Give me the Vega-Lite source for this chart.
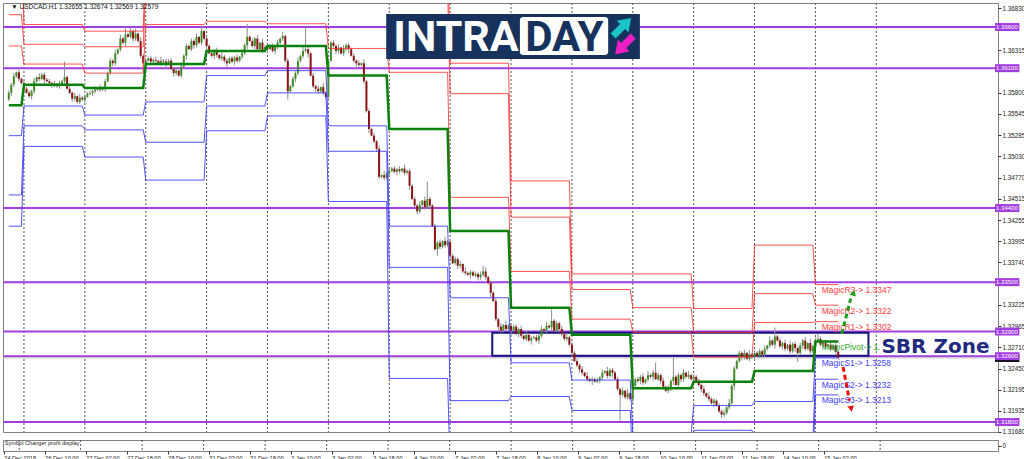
{
"$schema": "https://vega.github.io/schema/vega-lite/v6.json",
"background": "white",
"padding": {"left": 1, "top": 2, "right": 0, "bottom": 0},
"spacing": 3,
"config": {"font": "Liberation Sans", "view": {"stroke": "#7f7f7f", "strokeWidth": 1}},
"datasets": {
"sep": [{"i":6},{"i":30},{"i":54},{"i":78},{"i":102},{"i":126},{"i":150},{"i":174},{"i":198},{"i":222},{"i":246},{"i":270},{"i":294},{"i":318},{"i":342}],
"lv": [{"v":1.366,"t":"1.36600"},{"v":1.361,"t":"1.36100"},{"v":1.344,"t":"1.34400"},{"v":1.335,"t":"1.33500"},{"v":1.329,"t":"1.32900"},{"v":1.326,"t":"1.32600"},{"v":1.318,"t":"1.31800"}],
"bid": [{"v":1.32579,"t":"1.32579"}],
"pd": [
{"s":0,"e":5,"R3":1.3746,"R2":1.3675,"R1":1.3637,"P":1.3565,"S1":1.3528,"S2":1.3456,"S3":1.3418},
{"s":6,"e":29,"R3":1.3663,"R2":1.3639,"R1":1.3615,"P":1.3590,"S1":1.3564,"S2":1.3540,"S3":1.3515},
{"s":30,"e":53,"R3":1.3655,"R2":1.3636,"R1":1.3604,"P":1.3586,"S1":1.3553,"S2":1.3535,"S3":1.3502},
{"s":54,"e":77,"R3":1.3757,"R2":1.3709,"R1":1.3663,"P":1.3615,"S1":1.3569,"S2":1.3520,"S3":1.3474},
{"s":78,"e":101,"R3":1.3734,"R2":1.3698,"R1":1.3667,"P":1.3631,"S1":1.3601,"S2":1.3564,"S3":1.3534},
{"s":102,"e":125,"R3":1.3723,"R2":1.3694,"R1":1.3664,"P":1.3637,"S1":1.3607,"S2":1.3580,"S3":1.3552},
{"s":126,"e":149,"R3":1.3723,"R2":1.3692,"R1":1.3634,"P":1.3601,"S1":1.3540,"S2":1.3509,"S3":1.3448},
{"s":150,"e":173,"R3":1.3765,"R2":1.3705,"R1":1.3605,"P":1.3536,"S1":1.3418,"S2":1.3368,"S3":1.3233},
{"s":174,"e":197,"R3":1.3616,"R2":1.3579,"R1":1.3453,"P":1.3412,"S1":1.3331,"S2":1.3206,"S3":1.3120},
{"s":198,"e":221,"R3":1.3473,"R2":1.3429,"R1":1.3363,"P":1.3319,"S1":1.3252,"S2":1.3211,"S3":1.3150},
{"s":222,"e":245,"R3":1.3360,"R2":1.3341,"R1":1.3305,"P":1.3286,"S1":1.3231,"S2":1.3194,"S3":1.3140},
{"s":246,"e":269,"R3":1.3360,"R2":1.3319,"R1":1.3289,"P":1.3221,"S1":1.3165,"S2":1.3130,"S3":1.3100},
{"s":270,"e":293,"R3":1.3318,"R2":1.3289,"R1":1.3259,"P":1.3229,"S1":1.3200,"S2":1.3170,"S3":1.3140},
{"s":294,"e":317,"R3":1.3395,"R2":1.3336,"R1":1.3301,"P":1.3242,"S1":1.3205,"S2":1.3160,"S3":1.3125},
{"s":318,"e":327,"R3":1.3347,"R2":1.3322,"R1":1.3302,"P":1.3278,"S1":1.3258,"S2":1.3232,"S3":1.3213}
],
"lab": [{"t":"MagicR3-> 1.3347","v":1.3347,"g":"R"},{"t":"MagicR2-> 1.3322","v":1.3322,"g":"R"},{"t":"MagicR1-> 1.3302","v":1.3302,"g":"R"},{"t":"MagicPivot-> 1.3278","v":1.3278,"g":"P"},{"t":"MagicS1-> 1.3258","v":1.3258,"g":"S"},{"t":"MagicS2-> 1.3232","v":1.3232,"g":"S"},{"t":"MagicS3-> 1.3213","v":1.3213,"g":"S"}],
"arrG": [{"i":328.4,"v":1.3287},{"i":331.9,"v":1.3330}],
"arrR": [{"i":328.9,"v":1.3247},{"i":331.4,"v":1.3206}],
"c": [
{"i":0,"o":1.3572,"h":1.3583,"l":1.3570,"c":1.3580},
{"i":1,"o":1.3580,"h":1.3592,"l":1.3576,"c":1.3590},
{"i":2,"o":1.3590,"h":1.3604,"l":1.3587,"c":1.3600},
{"i":3,"o":1.3600,"h":1.3606,"l":1.3598,"c":1.3605},
{"i":4,"o":1.3605,"h":1.3610,"l":1.3594,"c":1.3597},
{"i":5,"o":1.3597,"h":1.3599,"l":1.3590,"c":1.3592},
{"i":6,"o":1.3592,"h":1.3595,"l":1.3580,"c":1.3585},
{"i":7,"o":1.3585,"h":1.3587,"l":1.3579,"c":1.3580},
{"i":8,"o":1.3580,"h":1.3583,"l":1.3574,"c":1.3576},
{"i":9,"o":1.3576,"h":1.3584,"l":1.3572,"c":1.3582},
{"i":10,"o":1.3582,"h":1.3598,"l":1.3579,"c":1.3594},
{"i":11,"o":1.3594,"h":1.3600,"l":1.3592,"c":1.3599},
{"i":12,"o":1.3599,"h":1.3604,"l":1.3594,"c":1.3597},
{"i":13,"o":1.3597,"h":1.3604,"l":1.3595,"c":1.3602},
{"i":14,"o":1.3602,"h":1.3605,"l":1.3591,"c":1.3596},
{"i":15,"o":1.3596,"h":1.3598,"l":1.3593,"c":1.3594},
{"i":16,"o":1.3594,"h":1.3597,"l":1.3590,"c":1.3592},
{"i":17,"o":1.3592,"h":1.3594,"l":1.3586,"c":1.3590},
{"i":18,"o":1.3590,"h":1.3595,"l":1.3587,"c":1.3591},
{"i":19,"o":1.3591,"h":1.3592,"l":1.3586,"c":1.3588},
{"i":20,"o":1.3588,"h":1.3595,"l":1.3585,"c":1.3590},
{"i":21,"o":1.3590,"h":1.3596,"l":1.3588,"c":1.3594},
{"i":22,"o":1.3594,"h":1.3618,"l":1.3589,"c":1.3599},
{"i":23,"o":1.3599,"h":1.3601,"l":1.3584,"c":1.3585},
{"i":24,"o":1.3585,"h":1.3588,"l":1.3578,"c":1.3580},
{"i":25,"o":1.3580,"h":1.3582,"l":1.3569,"c":1.3573},
{"i":26,"o":1.3573,"h":1.3580,"l":1.3570,"c":1.3576},
{"i":27,"o":1.3576,"h":1.3577,"l":1.3567,"c":1.3569},
{"i":28,"o":1.3569,"h":1.3579,"l":1.3566,"c":1.3574},
{"i":29,"o":1.3574,"h":1.3576,"l":1.3570,"c":1.3572},
{"i":30,"o":1.3572,"h":1.3578,"l":1.3567,"c":1.3575},
{"i":31,"o":1.3575,"h":1.3581,"l":1.3574,"c":1.3579},
{"i":32,"o":1.3579,"h":1.3583,"l":1.3577,"c":1.3580},
{"i":33,"o":1.3580,"h":1.3584,"l":1.3576,"c":1.3582},
{"i":34,"o":1.3582,"h":1.3588,"l":1.3579,"c":1.3584},
{"i":35,"o":1.3584,"h":1.3586,"l":1.3582,"c":1.3585},
{"i":36,"o":1.3585,"h":1.3590,"l":1.3581,"c":1.3584},
{"i":37,"o":1.3584,"h":1.3588,"l":1.3582,"c":1.3586},
{"i":38,"o":1.3586,"h":1.3597,"l":1.3581,"c":1.3594},
{"i":39,"o":1.3594,"h":1.3606,"l":1.3593,"c":1.3604},
{"i":40,"o":1.3604,"h":1.3622,"l":1.3602,"c":1.3619},
{"i":41,"o":1.3619,"h":1.3621,"l":1.3612,"c":1.3616},
{"i":42,"o":1.3616,"h":1.3632,"l":1.3613,"c":1.3628},
{"i":43,"o":1.3628,"h":1.3634,"l":1.3626,"c":1.3633},
{"i":44,"o":1.3633,"h":1.3651,"l":1.3630,"c":1.3646},
{"i":45,"o":1.3646,"h":1.3648,"l":1.3639,"c":1.3641},
{"i":46,"o":1.3641,"h":1.3661,"l":1.3636,"c":1.3651},
{"i":47,"o":1.3651,"h":1.3653,"l":1.3647,"c":1.3648},
{"i":48,"o":1.3648,"h":1.3660,"l":1.3646,"c":1.3655},
{"i":49,"o":1.3655,"h":1.3657,"l":1.3642,"c":1.3646},
{"i":50,"o":1.3646,"h":1.3658,"l":1.3643,"c":1.3652},
{"i":51,"o":1.3652,"h":1.3653,"l":1.3641,"c":1.3643},
{"i":52,"o":1.3643,"h":1.3648,"l":1.3622,"c":1.3625},
{"i":53,"o":1.3625,"h":1.3627,"l":1.3605,"c":1.3616},
{"i":54,"o":1.3616,"h":1.3622,"l":1.3611,"c":1.3619},
{"i":55,"o":1.3619,"h":1.3624,"l":1.3618,"c":1.3622},
{"i":56,"o":1.3622,"h":1.3625,"l":1.3616,"c":1.3618},
{"i":57,"o":1.3618,"h":1.3622,"l":1.3614,"c":1.3620},
{"i":58,"o":1.3620,"h":1.3624,"l":1.3616,"c":1.3619},
{"i":59,"o":1.3619,"h":1.3620,"l":1.3614,"c":1.3616},
{"i":60,"o":1.3616,"h":1.3624,"l":1.3613,"c":1.3619},
{"i":61,"o":1.3619,"h":1.3621,"l":1.3616,"c":1.3618},
{"i":62,"o":1.3618,"h":1.3621,"l":1.3610,"c":1.3615},
{"i":63,"o":1.3615,"h":1.3621,"l":1.3614,"c":1.3619},
{"i":64,"o":1.3619,"h":1.3622,"l":1.3607,"c":1.3609},
{"i":65,"o":1.3609,"h":1.3611,"l":1.3600,"c":1.3604},
{"i":66,"o":1.3604,"h":1.3611,"l":1.3601,"c":1.3607},
{"i":67,"o":1.3607,"h":1.3608,"l":1.3599,"c":1.3601},
{"i":68,"o":1.3601,"h":1.3617,"l":1.3598,"c":1.3612},
{"i":69,"o":1.3612,"h":1.3627,"l":1.3610,"c":1.3625},
{"i":70,"o":1.3625,"h":1.3640,"l":1.3620,"c":1.3637},
{"i":71,"o":1.3637,"h":1.3639,"l":1.3632,"c":1.3633},
{"i":72,"o":1.3633,"h":1.3646,"l":1.3631,"c":1.3643},
{"i":73,"o":1.3643,"h":1.3645,"l":1.3634,"c":1.3638},
{"i":74,"o":1.3638,"h":1.3652,"l":1.3635,"c":1.3648},
{"i":75,"o":1.3648,"h":1.3649,"l":1.3639,"c":1.3641},
{"i":76,"o":1.3641,"h":1.3662,"l":1.3638,"c":1.3655},
{"i":77,"o":1.3655,"h":1.3657,"l":1.3644,"c":1.3646},
{"i":78,"o":1.3646,"h":1.3649,"l":1.3632,"c":1.3637},
{"i":79,"o":1.3637,"h":1.3639,"l":1.3627,"c":1.3628},
{"i":80,"o":1.3628,"h":1.3631,"l":1.3623,"c":1.3625},
{"i":81,"o":1.3625,"h":1.3633,"l":1.3621,"c":1.3631},
{"i":82,"o":1.3631,"h":1.3635,"l":1.3623,"c":1.3626},
{"i":83,"o":1.3626,"h":1.3627,"l":1.3620,"c":1.3622},
{"i":84,"o":1.3622,"h":1.3629,"l":1.3619,"c":1.3624},
{"i":85,"o":1.3624,"h":1.3626,"l":1.3617,"c":1.3619},
{"i":86,"o":1.3619,"h":1.3622,"l":1.3611,"c":1.3616},
{"i":87,"o":1.3616,"h":1.3624,"l":1.3615,"c":1.3622},
{"i":88,"o":1.3622,"h":1.3625,"l":1.3616,"c":1.3618},
{"i":89,"o":1.3618,"h":1.3625,"l":1.3614,"c":1.3623},
{"i":90,"o":1.3623,"h":1.3627,"l":1.3616,"c":1.3619},
{"i":91,"o":1.3619,"h":1.3625,"l":1.3617,"c":1.3624},
{"i":92,"o":1.3624,"h":1.3633,"l":1.3621,"c":1.3628},
{"i":93,"o":1.3628,"h":1.3640,"l":1.3626,"c":1.3638},
{"i":94,"o":1.3638,"h":1.3664,"l":1.3633,"c":1.3648},
{"i":95,"o":1.3648,"h":1.3650,"l":1.3642,"c":1.3643},
{"i":96,"o":1.3643,"h":1.3646,"l":1.3635,"c":1.3637},
{"i":97,"o":1.3637,"h":1.3648,"l":1.3633,"c":1.3646},
{"i":98,"o":1.3646,"h":1.3650,"l":1.3630,"c":1.3633},
{"i":99,"o":1.3633,"h":1.3642,"l":1.3631,"c":1.3641},
{"i":100,"o":1.3641,"h":1.3646,"l":1.3628,"c":1.3631},
{"i":101,"o":1.3631,"h":1.3638,"l":1.3629,"c":1.3636},
{"i":102,"o":1.3636,"h":1.3639,"l":1.3628,"c":1.3633},
{"i":103,"o":1.3633,"h":1.3639,"l":1.3632,"c":1.3637},
{"i":104,"o":1.3637,"h":1.3640,"l":1.3629,"c":1.3631},
{"i":105,"o":1.3631,"h":1.3638,"l":1.3627,"c":1.3636},
{"i":106,"o":1.3636,"h":1.3645,"l":1.3633,"c":1.3641},
{"i":107,"o":1.3641,"h":1.3647,"l":1.3639,"c":1.3646},
{"i":108,"o":1.3646,"h":1.3654,"l":1.3643,"c":1.3649},
{"i":109,"o":1.3649,"h":1.3651,"l":1.3617,"c":1.3619},
{"i":110,"o":1.3619,"h":1.3622,"l":1.3572,"c":1.3582},
{"i":111,"o":1.3582,"h":1.3590,"l":1.3581,"c":1.3588},
{"i":112,"o":1.3588,"h":1.3600,"l":1.3586,"c":1.3597},
{"i":113,"o":1.3597,"h":1.3606,"l":1.3593,"c":1.3604},
{"i":114,"o":1.3604,"h":1.3623,"l":1.3601,"c":1.3619},
{"i":115,"o":1.3619,"h":1.3626,"l":1.3617,"c":1.3625},
{"i":116,"o":1.3625,"h":1.3636,"l":1.3622,"c":1.3631},
{"i":117,"o":1.3631,"h":1.3661,"l":1.3629,"c":1.3633},
{"i":118,"o":1.3633,"h":1.3636,"l":1.3623,"c":1.3628},
{"i":119,"o":1.3628,"h":1.3630,"l":1.3600,"c":1.3601},
{"i":120,"o":1.3601,"h":1.3604,"l":1.3586,"c":1.3588},
{"i":121,"o":1.3588,"h":1.3590,"l":1.3581,"c":1.3585},
{"i":122,"o":1.3585,"h":1.3589,"l":1.3579,"c":1.3582},
{"i":123,"o":1.3582,"h":1.3588,"l":1.3580,"c":1.3587},
{"i":124,"o":1.3587,"h":1.3592,"l":1.3577,"c":1.3580},
{"i":125,"o":1.3580,"h":1.3582,"l":1.3573,"c":1.3575},
{"i":126,"o":1.3575,"h":1.3622,"l":1.3570,"c":1.3619},
{"i":127,"o":1.3619,"h":1.3643,"l":1.3618,"c":1.3641},
{"i":128,"o":1.3641,"h":1.3644,"l":1.3635,"c":1.3637},
{"i":129,"o":1.3637,"h":1.3639,"l":1.3627,"c":1.3631},
{"i":130,"o":1.3631,"h":1.3639,"l":1.3628,"c":1.3635},
{"i":131,"o":1.3635,"h":1.3636,"l":1.3626,"c":1.3628},
{"i":132,"o":1.3628,"h":1.3638,"l":1.3625,"c":1.3633},
{"i":133,"o":1.3633,"h":1.3640,"l":1.3631,"c":1.3638},
{"i":134,"o":1.3638,"h":1.3641,"l":1.3628,"c":1.3633},
{"i":135,"o":1.3633,"h":1.3635,"l":1.3624,"c":1.3625},
{"i":136,"o":1.3625,"h":1.3628,"l":1.3617,"c":1.3619},
{"i":137,"o":1.3619,"h":1.3621,"l":1.3612,"c":1.3616},
{"i":138,"o":1.3616,"h":1.3620,"l":1.3611,"c":1.3614},
{"i":139,"o":1.3614,"h":1.3617,"l":1.3612,"c":1.3616},
{"i":140,"o":1.3616,"h":1.3621,"l":1.3591,"c":1.3594},
{"i":141,"o":1.3594,"h":1.3596,"l":1.3556,"c":1.3558},
{"i":142,"o":1.3558,"h":1.3561,"l":1.3531,"c":1.3536},
{"i":143,"o":1.3536,"h":1.3538,"l":1.3527,"c":1.3528},
{"i":144,"o":1.3528,"h":1.3531,"l":1.3519,"c":1.3521},
{"i":145,"o":1.3521,"h":1.3523,"l":1.3508,"c":1.3512},
{"i":146,"o":1.3512,"h":1.3516,"l":1.3475,"c":1.3478},
{"i":147,"o":1.3478,"h":1.3481,"l":1.3476,"c":1.3480},
{"i":148,"o":1.3480,"h":1.3485,"l":1.3474,"c":1.3477},
{"i":149,"o":1.3477,"h":1.3484,"l":1.3475,"c":1.3482},
{"i":150,"o":1.3482,"h":1.3488,"l":1.3477,"c":1.3485},
{"i":151,"o":1.3485,"h":1.3490,"l":1.3484,"c":1.3488},
{"i":152,"o":1.3488,"h":1.3491,"l":1.3482,"c":1.3484},
{"i":153,"o":1.3484,"h":1.3489,"l":1.3480,"c":1.3487},
{"i":154,"o":1.3487,"h":1.3491,"l":1.3482,"c":1.3485},
{"i":155,"o":1.3485,"h":1.3489,"l":1.3483,"c":1.3488},
{"i":156,"o":1.3488,"h":1.3493,"l":1.3480,"c":1.3483},
{"i":157,"o":1.3483,"h":1.3487,"l":1.3481,"c":1.3485},
{"i":158,"o":1.3485,"h":1.3488,"l":1.3462,"c":1.3467},
{"i":159,"o":1.3467,"h":1.3469,"l":1.3450,"c":1.3451},
{"i":160,"o":1.3451,"h":1.3454,"l":1.3441,"c":1.3443},
{"i":161,"o":1.3443,"h":1.3445,"l":1.3432,"c":1.3436},
{"i":162,"o":1.3436,"h":1.3448,"l":1.3433,"c":1.3444},
{"i":163,"o":1.3444,"h":1.3450,"l":1.3442,"c":1.3449},
{"i":164,"o":1.3449,"h":1.3454,"l":1.3438,"c":1.3441},
{"i":165,"o":1.3441,"h":1.3472,"l":1.3439,"c":1.3451},
{"i":166,"o":1.3451,"h":1.3454,"l":1.3438,"c":1.3443},
{"i":167,"o":1.3443,"h":1.3445,"l":1.3417,"c":1.3418},
{"i":168,"o":1.3418,"h":1.3421,"l":1.3388,"c":1.3390},
{"i":169,"o":1.3390,"h":1.3400,"l":1.3382,"c":1.3398},
{"i":170,"o":1.3398,"h":1.3402,"l":1.3390,"c":1.3393},
{"i":171,"o":1.3393,"h":1.3401,"l":1.3391,"c":1.3400},
{"i":172,"o":1.3400,"h":1.3405,"l":1.3392,"c":1.3395},
{"i":173,"o":1.3395,"h":1.3401,"l":1.3393,"c":1.3399},
{"i":174,"o":1.3399,"h":1.3402,"l":1.3377,"c":1.3382},
{"i":175,"o":1.3382,"h":1.3384,"l":1.3372,"c":1.3373},
{"i":176,"o":1.3373,"h":1.3381,"l":1.3371,"c":1.3378},
{"i":177,"o":1.3378,"h":1.3380,"l":1.3366,"c":1.3370},
{"i":178,"o":1.3370,"h":1.3376,"l":1.3367,"c":1.3372},
{"i":179,"o":1.3372,"h":1.3373,"l":1.3361,"c":1.3363},
{"i":180,"o":1.3363,"h":1.3368,"l":1.3358,"c":1.3361},
{"i":181,"o":1.3361,"h":1.3363,"l":1.3357,"c":1.3359},
{"i":182,"o":1.3359,"h":1.3365,"l":1.3354,"c":1.3362},
{"i":183,"o":1.3362,"h":1.3364,"l":1.3357,"c":1.3358},
{"i":184,"o":1.3358,"h":1.3363,"l":1.3356,"c":1.3360},
{"i":185,"o":1.3360,"h":1.3362,"l":1.3352,"c":1.3356},
{"i":186,"o":1.3356,"h":1.3363,"l":1.3353,"c":1.3359},
{"i":187,"o":1.3359,"h":1.3370,"l":1.3357,"c":1.3363},
{"i":188,"o":1.3363,"h":1.3368,"l":1.3353,"c":1.3356},
{"i":189,"o":1.3356,"h":1.3358,"l":1.3347,"c":1.3349},
{"i":190,"o":1.3349,"h":1.3352,"l":1.3332,"c":1.3337},
{"i":191,"o":1.3337,"h":1.3339,"l":1.3326,"c":1.3327},
{"i":192,"o":1.3327,"h":1.3330,"l":1.3303,"c":1.3305},
{"i":193,"o":1.3305,"h":1.3307,"l":1.3292,"c":1.3296},
{"i":194,"o":1.3296,"h":1.3300,"l":1.3288,"c":1.3291},
{"i":195,"o":1.3291,"h":1.3299,"l":1.3289,"c":1.3298},
{"i":196,"o":1.3298,"h":1.3303,"l":1.3290,"c":1.3293},
{"i":197,"o":1.3293,"h":1.3299,"l":1.3291,"c":1.3297},
{"i":198,"o":1.3297,"h":1.3300,"l":1.3286,"c":1.3291},
{"i":199,"o":1.3291,"h":1.3298,"l":1.3290,"c":1.3296},
{"i":200,"o":1.3296,"h":1.3299,"l":1.3285,"c":1.3287},
{"i":201,"o":1.3287,"h":1.3295,"l":1.3283,"c":1.3293},
{"i":202,"o":1.3293,"h":1.3297,"l":1.3282,"c":1.3285},
{"i":203,"o":1.3285,"h":1.3286,"l":1.3279,"c":1.3281},
{"i":204,"o":1.3281,"h":1.3291,"l":1.3278,"c":1.3286},
{"i":205,"o":1.3286,"h":1.3288,"l":1.3277,"c":1.3279},
{"i":206,"o":1.3279,"h":1.3285,"l":1.3274,"c":1.3282},
{"i":207,"o":1.3282,"h":1.3285,"l":1.3281,"c":1.3283},
{"i":208,"o":1.3283,"h":1.3286,"l":1.3277,"c":1.3279},
{"i":209,"o":1.3279,"h":1.3287,"l":1.3275,"c":1.3285},
{"i":210,"o":1.3285,"h":1.3297,"l":1.3282,"c":1.3293},
{"i":211,"o":1.3293,"h":1.3294,"l":1.3289,"c":1.3291},
{"i":212,"o":1.3291,"h":1.3302,"l":1.3288,"c":1.3297},
{"i":213,"o":1.3297,"h":1.3299,"l":1.3293,"c":1.3295},
{"i":214,"o":1.3295,"h":1.3317,"l":1.3290,"c":1.3303},
{"i":215,"o":1.3303,"h":1.3305,"l":1.3290,"c":1.3291},
{"i":216,"o":1.3291,"h":1.3303,"l":1.3289,"c":1.3300},
{"i":217,"o":1.3300,"h":1.3302,"l":1.3289,"c":1.3293},
{"i":218,"o":1.3293,"h":1.3297,"l":1.3284,"c":1.3287},
{"i":219,"o":1.3287,"h":1.3288,"l":1.3279,"c":1.3281},
{"i":220,"o":1.3281,"h":1.3288,"l":1.3278,"c":1.3283},
{"i":221,"o":1.3283,"h":1.3285,"l":1.3272,"c":1.3274},
{"i":222,"o":1.3274,"h":1.3277,"l":1.3259,"c":1.3264},
{"i":223,"o":1.3264,"h":1.3266,"l":1.3253,"c":1.3254},
{"i":224,"o":1.3254,"h":1.3257,"l":1.3247,"c":1.3249},
{"i":225,"o":1.3249,"h":1.3251,"l":1.3240,"c":1.3244},
{"i":226,"o":1.3244,"h":1.3248,"l":1.3237,"c":1.3240},
{"i":227,"o":1.3240,"h":1.3241,"l":1.3234,"c":1.3236},
{"i":228,"o":1.3236,"h":1.3241,"l":1.3229,"c":1.3232},
{"i":229,"o":1.3232,"h":1.3234,"l":1.3228,"c":1.3230},
{"i":230,"o":1.3230,"h":1.3235,"l":1.3225,"c":1.3232},
{"i":231,"o":1.3232,"h":1.3234,"l":1.3228,"c":1.3229},
{"i":232,"o":1.3229,"h":1.3234,"l":1.3227,"c":1.3231},
{"i":233,"o":1.3231,"h":1.3236,"l":1.3227,"c":1.3234},
{"i":234,"o":1.3234,"h":1.3244,"l":1.3231,"c":1.3240},
{"i":235,"o":1.3240,"h":1.3243,"l":1.3238,"c":1.3242},
{"i":236,"o":1.3242,"h":1.3247,"l":1.3233,"c":1.3236},
{"i":237,"o":1.3236,"h":1.3245,"l":1.3234,"c":1.3243},
{"i":238,"o":1.3243,"h":1.3246,"l":1.3235,"c":1.3240},
{"i":239,"o":1.3240,"h":1.3242,"l":1.3231,"c":1.3232},
{"i":240,"o":1.3232,"h":1.3235,"l":1.3218,"c":1.3220},
{"i":241,"o":1.3220,"h":1.3222,"l":1.3181,"c":1.3213},
{"i":242,"o":1.3213,"h":1.3222,"l":1.3210,"c":1.3218},
{"i":243,"o":1.3218,"h":1.3219,"l":1.3208,"c":1.3210},
{"i":244,"o":1.3210,"h":1.3220,"l":1.3207,"c":1.3215},
{"i":245,"o":1.3215,"h":1.3217,"l":1.3206,"c":1.3208},
{"i":246,"o":1.3208,"h":1.3227,"l":1.3203,"c":1.3224},
{"i":247,"o":1.3224,"h":1.3234,"l":1.3223,"c":1.3232},
{"i":248,"o":1.3232,"h":1.3235,"l":1.3228,"c":1.3230},
{"i":249,"o":1.3230,"h":1.3237,"l":1.3226,"c":1.3235},
{"i":250,"o":1.3235,"h":1.3239,"l":1.3225,"c":1.3228},
{"i":251,"o":1.3228,"h":1.3233,"l":1.3226,"c":1.3232},
{"i":252,"o":1.3232,"h":1.3242,"l":1.3229,"c":1.3237},
{"i":253,"o":1.3237,"h":1.3239,"l":1.3233,"c":1.3235},
{"i":254,"o":1.3235,"h":1.3243,"l":1.3230,"c":1.3240},
{"i":255,"o":1.3240,"h":1.3252,"l":1.3231,"c":1.3232},
{"i":256,"o":1.3232,"h":1.3240,"l":1.3230,"c":1.3237},
{"i":257,"o":1.3237,"h":1.3239,"l":1.3226,"c":1.3230},
{"i":258,"o":1.3230,"h":1.3234,"l":1.3220,"c":1.3223},
{"i":259,"o":1.3223,"h":1.3224,"l":1.3216,"c":1.3218},
{"i":260,"o":1.3218,"h":1.3225,"l":1.3215,"c":1.3220},
{"i":261,"o":1.3220,"h":1.3232,"l":1.3218,"c":1.3230},
{"i":262,"o":1.3230,"h":1.3258,"l":1.3225,"c":1.3235},
{"i":263,"o":1.3235,"h":1.3237,"l":1.3224,"c":1.3225},
{"i":264,"o":1.3225,"h":1.3240,"l":1.3223,"c":1.3237},
{"i":265,"o":1.3237,"h":1.3239,"l":1.3228,"c":1.3232},
{"i":266,"o":1.3232,"h":1.3244,"l":1.3229,"c":1.3240},
{"i":267,"o":1.3240,"h":1.3241,"l":1.3233,"c":1.3235},
{"i":268,"o":1.3235,"h":1.3242,"l":1.3232,"c":1.3237},
{"i":269,"o":1.3237,"h":1.3239,"l":1.3230,"c":1.3232},
{"i":270,"o":1.3232,"h":1.3238,"l":1.3227,"c":1.3235},
{"i":271,"o":1.3235,"h":1.3237,"l":1.3229,"c":1.3230},
{"i":272,"o":1.3230,"h":1.3233,"l":1.3223,"c":1.3225},
{"i":273,"o":1.3225,"h":1.3227,"l":1.3216,"c":1.3220},
{"i":274,"o":1.3220,"h":1.3224,"l":1.3212,"c":1.3215},
{"i":275,"o":1.3215,"h":1.3216,"l":1.3209,"c":1.3211},
{"i":276,"o":1.3211,"h":1.3216,"l":1.3205,"c":1.3208},
{"i":277,"o":1.3208,"h":1.3210,"l":1.3201,"c":1.3203},
{"i":278,"o":1.3203,"h":1.3209,"l":1.3198,"c":1.3206},
{"i":279,"o":1.3206,"h":1.3208,"l":1.3199,"c":1.3200},
{"i":280,"o":1.3200,"h":1.3203,"l":1.3191,"c":1.3193},
{"i":281,"o":1.3193,"h":1.3195,"l":1.3185,"c":1.3189},
{"i":282,"o":1.3189,"h":1.3195,"l":1.3186,"c":1.3191},
{"i":283,"o":1.3191,"h":1.3199,"l":1.3189,"c":1.3198},
{"i":284,"o":1.3198,"h":1.3208,"l":1.3195,"c":1.3203},
{"i":285,"o":1.3203,"h":1.3226,"l":1.3201,"c":1.3224},
{"i":286,"o":1.3224,"h":1.3248,"l":1.3219,"c":1.3245},
{"i":287,"o":1.3245,"h":1.3256,"l":1.3244,"c":1.3254},
{"i":288,"o":1.3254,"h":1.3267,"l":1.3252,"c":1.3264},
{"i":289,"o":1.3264,"h":1.3266,"l":1.3255,"c":1.3259},
{"i":290,"o":1.3259,"h":1.3268,"l":1.3256,"c":1.3264},
{"i":291,"o":1.3264,"h":1.3265,"l":1.3255,"c":1.3257},
{"i":292,"o":1.3257,"h":1.3267,"l":1.3254,"c":1.3262},
{"i":293,"o":1.3262,"h":1.3264,"l":1.3257,"c":1.3259},
{"i":294,"o":1.3259,"h":1.3267,"l":1.3254,"c":1.3264},
{"i":295,"o":1.3264,"h":1.3266,"l":1.3259,"c":1.3260},
{"i":296,"o":1.3260,"h":1.3269,"l":1.3258,"c":1.3266},
{"i":297,"o":1.3266,"h":1.3268,"l":1.3258,"c":1.3262},
{"i":298,"o":1.3262,"h":1.3273,"l":1.3259,"c":1.3269},
{"i":299,"o":1.3269,"h":1.3274,"l":1.3267,"c":1.3273},
{"i":300,"o":1.3273,"h":1.3284,"l":1.3270,"c":1.3279},
{"i":301,"o":1.3279,"h":1.3281,"l":1.3272,"c":1.3274},
{"i":302,"o":1.3274,"h":1.3295,"l":1.3269,"c":1.3284},
{"i":303,"o":1.3284,"h":1.3286,"l":1.3278,"c":1.3279},
{"i":304,"o":1.3279,"h":1.3282,"l":1.3270,"c":1.3272},
{"i":305,"o":1.3272,"h":1.3278,"l":1.3268,"c":1.3276},
{"i":306,"o":1.3276,"h":1.3280,"l":1.3266,"c":1.3269},
{"i":307,"o":1.3269,"h":1.3275,"l":1.3267,"c":1.3274},
{"i":308,"o":1.3274,"h":1.3279,"l":1.3263,"c":1.3266},
{"i":309,"o":1.3266,"h":1.3277,"l":1.3264,"c":1.3275},
{"i":310,"o":1.3275,"h":1.3278,"l":1.3265,"c":1.3270},
{"i":311,"o":1.3270,"h":1.3272,"l":1.3253,"c":1.3264},
{"i":312,"o":1.3264,"h":1.3276,"l":1.3262,"c":1.3273},
{"i":313,"o":1.3273,"h":1.3281,"l":1.3269,"c":1.3279},
{"i":314,"o":1.3279,"h":1.3283,"l":1.3266,"c":1.3269},
{"i":315,"o":1.3269,"h":1.3277,"l":1.3267,"c":1.3276},
{"i":316,"o":1.3276,"h":1.3281,"l":1.3263,"c":1.3266},
{"i":317,"o":1.3266,"h":1.3274,"l":1.3264,"c":1.3272},
{"i":318,"o":1.3272,"h":1.3282,"l":1.3267,"c":1.3279},
{"i":319,"o":1.3279,"h":1.3287,"l":1.3278,"c":1.3281},
{"i":320,"o":1.3281,"h":1.3284,"l":1.3272,"c":1.3274},
{"i":321,"o":1.3274,"h":1.3278,"l":1.3270,"c":1.3276},
{"i":322,"o":1.3276,"h":1.3280,"l":1.3269,"c":1.3272},
{"i":323,"o":1.3272,"h":1.3275,"l":1.3270,"c":1.3274},
{"i":324,"o":1.3274,"h":1.3279,"l":1.3266,"c":1.3269},
{"i":325,"o":1.3269,"h":1.3275,"l":1.3267,"c":1.3273},
{"i":326,"o":1.3273,"h":1.3276,"l":1.3261,"c":1.32655},
{"i":327,"o":1.32655,"h":1.32674,"l":1.32569,"c":1.32579}
]
},
"vconcat": [
{
"width": 995, "height": 429,
"resolve": {"axis": {"x": "independent", "y": "independent"}},
"layer": [
{"data": {"name": "sep"}, "mark": {"type": "rule", "color": "#555555", "strokeDash": [2, 2], "strokeWidth": 1},
 "encoding": {"x": {"field": "i", "type": "quantitative", "scale": {"domain": [-0.3, 388], "nice": false, "zero": false}, "axis": null}}},
{"data": {"name": "lv"}, "mark": {"type": "rule", "color": "#a23ee0", "strokeWidth": 2},
 "encoding": {"y": {"field": "v", "type": "quantitative", "scale": {"domain": [1.31679, 1.36892], "nice": false, "zero": false},
  "axis": {"orient": "right", "title": null, "values": [1.3683,1.36315,1.358,1.35545,1.35285,1.3503,1.3477,1.34515,1.34255,1.33995,1.3374,1.33225,1.32965,1.3271,1.3245,1.32195,1.31935,1.3168], "format": ".5f", "domain": false, "grid": false, "ticks": true, "tickSize": 3, "tickColor": "#333333", "labelColor": "#222222", "labelFont": "Liberation Sans", "labelFontSize": 6.3, "labelPadding": 1, "labelOverlap": false, "labelBound": false, "labelFlush": false}}}},
{"data": {"name": "bid"}, "mark": {"type": "rule", "color": "#c4c4c4", "strokeWidth": 1},
 "encoding": {"y": {"field": "v", "type": "quantitative", "scale": {"domain": [1.31679, 1.36892], "nice": false, "zero": false}, "axis": null}}},
{"data": {"values": [{"n": "SBR"}]}, "mark": {"type": "rect", "fillOpacity": 0, "stroke": "#15157a", "strokeWidth": 2},
 "encoding": {"x": {"datum": 190.6, "type": "quantitative", "scale": {"domain": [-0.3, 388], "nice": false, "zero": false}, "axis": null}, "x2": {"datum": 338.9},
  "y": {"datum": 1.32885, "type": "quantitative", "scale": {"domain": [1.31679, 1.36892], "nice": false, "zero": false}, "axis": null}, "y2": {"datum": 1.32607}}},
{"data": {"name": "c"}, "mark": {"type": "rule", "color": "#8e8e8e", "strokeWidth": 1, "clip": true},
 "encoding": {"x": {"field": "i", "type": "quantitative", "scale": {"domain": [-0.3, 388], "nice": false, "zero": false}, "axis": null},
  "y": {"field": "l", "type": "quantitative", "scale": {"domain": [1.31679, 1.36892], "nice": false, "zero": false}, "axis": null}, "y2": {"field": "h"}}},
{"data": {"name": "c"}, "mark": {"type": "bar", "size": 2, "clip": true},
 "encoding": {"x": {"field": "i", "type": "quantitative", "scale": {"domain": [-0.3, 388], "nice": false, "zero": false}, "axis": null},
  "y": {"field": "o", "type": "quantitative", "scale": {"domain": [1.31679, 1.36892], "nice": false, "zero": false}, "axis": null}, "y2": {"field": "c"},
  "color": {"condition": {"test": "datum.c >= datum.o", "value": "#3f8e27"}, "value": "#8a1212"}}},
{"data": {"name": "pd"}, "transform": [{"fold": ["R3", "R2", "R1"], "as": ["k", "v"]}, {"fold": ["s", "e"], "as": ["w", "i"]}],
 "mark": {"type": "line", "color": "#ff3434", "strokeWidth": 1, "opacity": 0.85, "clip": true},
 "encoding": {"x": {"field": "i", "type": "quantitative", "scale": {"domain": [-0.3, 388], "nice": false, "zero": false}, "axis": null},
  "y": {"field": "v", "type": "quantitative", "scale": {"domain": [1.31679, 1.36892], "nice": false, "zero": false}, "axis": null}, "detail": {"field": "k"}}},
{"data": {"name": "pd"}, "transform": [{"fold": ["S1", "S2", "S3"], "as": ["k", "v"]}, {"fold": ["s", "e"], "as": ["w", "i"]}],
 "mark": {"type": "line", "color": "#3434ff", "strokeWidth": 1, "opacity": 0.85, "clip": true},
 "encoding": {"x": {"field": "i", "type": "quantitative", "scale": {"domain": [-0.3, 388], "nice": false, "zero": false}, "axis": null},
  "y": {"field": "v", "type": "quantitative", "scale": {"domain": [1.31679, 1.36892], "nice": false, "zero": false}, "axis": null}, "detail": {"field": "k"}}},
{"data": {"name": "pd"}, "transform": [{"fold": ["P"], "as": ["k", "v"]}, {"fold": ["s", "e"], "as": ["w", "i"]}],
 "mark": {"type": "line", "color": "#0b800b", "strokeWidth": 2.5, "clip": true},
 "encoding": {"x": {"field": "i", "type": "quantitative", "scale": {"domain": [-0.3, 388], "nice": false, "zero": false}, "axis": null},
  "y": {"field": "v", "type": "quantitative", "scale": {"domain": [1.31679, 1.36892], "nice": false, "zero": false}, "axis": null}}},
{"data": {"name": "lab"}, "mark": {"type": "text", "align": "left", "baseline": "top", "dy": 1.5, "font": "Liberation Sans", "fontSize": 8.5},
 "encoding": {"x": {"datum": 320.5, "type": "quantitative", "scale": {"domain": [-0.3, 388], "nice": false, "zero": false}, "axis": null},
  "y": {"field": "v", "type": "quantitative", "scale": {"domain": [1.31679, 1.36892], "nice": false, "zero": false}, "axis": null},
  "text": {"field": "t"},
  "color": {"field": "g", "type": "nominal", "scale": {"domain": ["R", "P", "S"], "range": ["#ff4040", "#2aa52a", "#4040ff"]}, "legend": null}}},
{"data": {"values": [{"n": "bg"}]}, "mark": {"type": "rect", "color": "white"},
 "encoding": {"x": {"datum": 343.6, "type": "quantitative", "scale": {"domain": [-0.3, 388], "nice": false, "zero": false}, "axis": null}, "x2": {"datum": 386.5},
  "y": {"datum": 1.32855, "type": "quantitative", "scale": {"domain": [1.31679, 1.36892], "nice": false, "zero": false}, "axis": null}, "y2": {"datum": 1.32635}}},
{"data": {"values": [{"t": "SBR Zone"}]}, "mark": {"type": "text", "align": "left", "baseline": "middle", "font": "DejaVu Sans", "fontWeight": "bold", "fontSize": 20, "color": "#1f2a7e"},
 "encoding": {"x": {"datum": 344, "type": "quantitative", "scale": {"domain": [-0.3, 388], "nice": false, "zero": false}, "axis": null},
  "y": {"datum": 1.32712, "type": "quantitative", "scale": {"domain": [1.31679, 1.36892], "nice": false, "zero": false}, "axis": null}, "text": {"field": "t"}}},
{"data": {"name": "arrG"}, "mark": {"type": "line", "color": "#1c9e1c", "strokeWidth": 3, "strokeDash": [5, 3]},
 "encoding": {"x": {"field": "i", "type": "quantitative", "scale": {"domain": [-0.3, 388], "nice": false, "zero": false}, "axis": null},
  "y": {"field": "v", "type": "quantitative", "scale": {"domain": [1.31679, 1.36892], "nice": false, "zero": false}, "axis": null}}},
{"data": {"values": [{"n": "hg"}]}, "mark": {"type": "point", "shape": "triangle-up", "filled": true, "size": 45, "color": "#1c9e1c", "angle": 15, "opacity": 1},
 "encoding": {"x": {"datum": 333.0, "type": "quantitative", "scale": {"domain": [-0.3, 388], "nice": false, "zero": false}, "axis": null},
  "y": {"datum": 1.3337, "type": "quantitative", "scale": {"domain": [1.31679, 1.36892], "nice": false, "zero": false}, "axis": null}}},
{"data": {"name": "arrR"}, "mark": {"type": "line", "color": "#e81010", "strokeWidth": 3, "strokeDash": [5, 3]},
 "encoding": {"x": {"field": "i", "type": "quantitative", "scale": {"domain": [-0.3, 388], "nice": false, "zero": false}, "axis": null},
  "y": {"field": "v", "type": "quantitative", "scale": {"domain": [1.31679, 1.36892], "nice": false, "zero": false}, "axis": null}}},
{"data": {"values": [{"n": "hr"}]}, "mark": {"type": "point", "shape": "triangle-down", "filled": true, "size": 45, "color": "#e81010", "angle": -10, "opacity": 1},
 "encoding": {"x": {"datum": 332.1, "type": "quantitative", "scale": {"domain": [-0.3, 388], "nice": false, "zero": false}, "axis": null},
  "y": {"datum": 1.3196, "type": "quantitative", "scale": {"domain": [1.31679, 1.36892], "nice": false, "zero": false}, "axis": null}}},
{"data": {"values": [{"n": "logo"}]}, "mark": {"type": "rect", "color": "#17325c"},
 "encoding": {"x": {"datum": 148.8, "type": "quantitative", "scale": {"domain": [-0.3, 388], "nice": false, "zero": false}, "axis": null}, "x2": {"datum": 248.8},
  "y": {"datum": 1.36758, "type": "quantitative", "scale": {"domain": [1.31679, 1.36892], "nice": false, "zero": false}, "axis": null}, "y2": {"datum": 1.36211}}},
{"data": {"values": [{"n": "day"}]}, "mark": {"type": "rect", "color": "white", "cornerRadius": 3},
 "encoding": {"x": {"datum": 201.5, "type": "quantitative", "scale": {"domain": [-0.3, 388], "nice": false, "zero": false}, "axis": null}, "x2": {"datum": 236.3},
  "y": {"datum": 1.36722, "type": "quantitative", "scale": {"domain": [1.31679, 1.36892], "nice": false, "zero": false}, "axis": null}, "y2": {"datum": 1.3626}}},
{"data": {"values": [{"t": "INTRA"}]}, "mark": {"type": "text", "align": "left", "baseline": "alphabetic", "font": "Roboto", "fontWeight": "bold", "fontSize": 43, "color": "white"},
 "encoding": {"x": {"datum": 151.6, "type": "quantitative", "scale": {"domain": [-0.3, 388], "nice": false, "zero": false}, "axis": null},
  "y": {"datum": 1.36312, "type": "quantitative", "scale": {"domain": [1.31679, 1.36892], "nice": false, "zero": false}, "axis": null}, "text": {"field": "t"}}},
{"data": {"values": [{"t": "DAY"}]}, "mark": {"type": "text", "align": "left", "baseline": "alphabetic", "font": "Roboto", "fontWeight": "bold", "fontSize": 42, "color": "#17325c"},
 "encoding": {"x": {"datum": 203.6, "type": "quantitative", "scale": {"domain": [-0.3, 388], "nice": false, "zero": false}, "axis": null},
  "y": {"datum": 1.36312, "type": "quantitative", "scale": {"domain": [1.31679, 1.36892], "nice": false, "zero": false}, "axis": null}, "text": {"field": "t"}}},
{"data": {"values": [{"n": "up"}]}, "mark": {"type": "point", "shape": "M-0.28,1L-0.28,-0.05L-0.65,-0.05L0,-1L0.65,-0.05L0.28,-0.05L0.28,1Z", "filled": true, "size": 650, "color": "#19c3c8", "angle": 45, "opacity": 1},
 "encoding": {"x": {"datum": 241.8, "type": "quantitative", "scale": {"domain": [-0.3, 388], "nice": false, "zero": false}, "axis": null},
  "y": {"datum": 1.36600, "type": "quantitative", "scale": {"domain": [1.31679, 1.36892], "nice": false, "zero": false}, "axis": null}}},
{"data": {"values": [{"n": "down"}]}, "mark": {"type": "point", "shape": "M-0.28,1L-0.28,-0.05L-0.65,-0.05L0,-1L0.65,-0.05L0.28,-0.05L0.28,1Z", "filled": true, "size": 650, "color": "#ee1fc4", "angle": 225, "opacity": 1},
 "encoding": {"x": {"datum": 242.6, "type": "quantitative", "scale": {"domain": [-0.3, 388], "nice": false, "zero": false}, "axis": null},
  "y": {"datum": 1.36380, "type": "quantitative", "scale": {"domain": [1.31679, 1.36892], "nice": false, "zero": false}, "axis": null}}},
{"data": {"values": [{"t": "\u25bc  USDCAD,H1  1.32655 1.32674 1.32569 1.32579"}]}, "mark": {"type": "text", "align": "left", "baseline": "middle", "font": "Liberation Sans", "fontSize": 6.5, "color": "#111111"},
 "encoding": {"x": {"datum": 1.0, "type": "quantitative", "scale": {"domain": [-0.3, 388], "nice": false, "zero": false}, "axis": null},
  "y": {"datum": 1.36845, "type": "quantitative", "scale": {"domain": [1.31679, 1.36892], "nice": false, "zero": false}, "axis": null}, "text": {"field": "t"}}},
{"data": {"name": "bid"}, "mark": {"type": "rule", "color": "#000000", "strokeWidth": 8},
 "encoding": {"x": {"datum": 388.8, "type": "quantitative", "scale": {"domain": [-0.3, 388], "nice": false, "zero": false}, "axis": null}, "x2": {"datum": 398.4},
  "y": {"field": "v", "type": "quantitative", "scale": {"domain": [1.31679, 1.36892], "nice": false, "zero": false}, "axis": null}}},
{"data": {"name": "bid"}, "mark": {"type": "text", "align": "left", "baseline": "middle", "font": "Liberation Sans", "fontSize": 6, "color": "white"},
 "encoding": {"x": {"datum": 389.2, "type": "quantitative", "scale": {"domain": [-0.3, 388], "nice": false, "zero": false}, "axis": null},
  "y": {"field": "v", "type": "quantitative", "scale": {"domain": [1.31679, 1.36892], "nice": false, "zero": false}, "axis": null}, "text": {"field": "t"}}},
{"data": {"name": "lv"}, "mark": {"type": "rule", "color": "#a23ee0", "strokeWidth": 8},
 "encoding": {"x": {"datum": 388.8, "type": "quantitative", "scale": {"domain": [-0.3, 388], "nice": false, "zero": false}, "axis": null}, "x2": {"datum": 398.4},
  "y": {"field": "v", "type": "quantitative", "scale": {"domain": [1.31679, 1.36892], "nice": false, "zero": false}, "axis": null}}},
{"data": {"name": "lv"}, "mark": {"type": "text", "align": "left", "baseline": "middle", "font": "Liberation Sans", "fontSize": 6, "color": "white"},
 "encoding": {"x": {"datum": 389.2, "type": "quantitative", "scale": {"domain": [-0.3, 388], "nice": false, "zero": false}, "axis": null},
  "y": {"field": "v", "type": "quantitative", "scale": {"domain": [1.31679, 1.36892], "nice": false, "zero": false}, "axis": null}, "text": {"field": "t"}}}
]
},
{
"width": 995, "height": 11,
"resolve": {"axis": {"x": "independent", "y": "independent"}},
"layer": [
{"data": {"name": "sep"}, "mark": {"type": "rule", "color": "#555555", "strokeDash": [2, 2], "strokeWidth": 1},
 "encoding": {"x": {"field": "i", "type": "quantitative", "scale": {"domain": [-0.3, 388], "nice": false, "zero": false},
  "axis": {"orient": "bottom", "title": null, "values": [0,16,32,48,64,80,96,112,128,144,160,176,192,208,224,240,256,272,288,304,320],
   "labelExpr": "['24 Dec 2018','26 Dec 10:00','27 Dec 02:00','27 Dec 18:00','28 Dec 10:00','31 Dec 02:00','31 Dec 18:00','2 Jan 10:00','3 Jan 02:00','3 Jan 18:00','4 Jan 10:00','7 Jan 02:00','7 Jan 18:00','8 Jan 10:00','9 Jan 02:00','9 Jan 18:00','10 Jan 10:00','11 Jan 02:00','11 Jan 18:00','14 Jan 10:00','15 Jan 02:00'][round(datum.value/16)]",
   "domain": false, "grid": false, "ticks": true, "tickSize": 3, "tickColor": "#333333", "labelAlign": "left", "labelPadding": 1, "labelFont": "Liberation Sans", "labelFontSize": 5.6, "labelColor": "#222222", "labelOverlap": false, "labelBound": false, "labelFlush": false}}}},
{"data": {"values": [{"t": "Symbol Changer profit display"}]}, "mark": {"type": "text", "align": "left", "baseline": "top", "dy": 1, "font": "Liberation Sans", "fontSize": 5.6, "color": "#222222"},
 "encoding": {"x": {"datum": 0.4, "type": "quantitative", "scale": {"domain": [-0.3, 388], "nice": false, "zero": false}, "axis": null},
  "y": {"datum": 1, "type": "quantitative", "scale": {"domain": [-1, 1], "nice": false, "zero": false},
   "axis": {"orient": "right", "title": null, "values": [0], "format": "d", "domain": false, "grid": false, "tickSize": 3, "tickColor": "#333333", "labelFontSize": 6.3, "labelPadding": 1, "labelColor": "#222222"}},
  "text": {"field": "t"}}}
]
}
]
}
